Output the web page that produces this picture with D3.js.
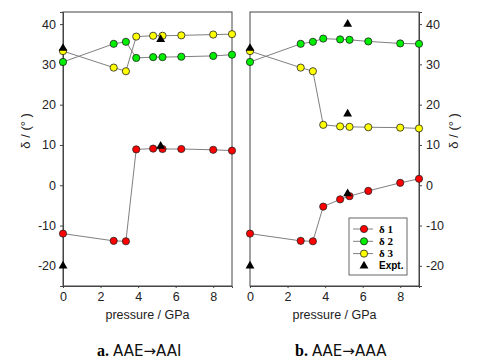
<!DOCTYPE html>
<html>
<head>
<meta charset="utf-8">
<script src="https://cdn.jsdelivr.net/npm/d3@7"></script>
<style>
  body { margin: 0; background: #fff; }
  svg { display: block; font-family: "Liberation Sans", Arial, sans-serif; }
  .tick text { font-size: 12.5px; fill: #222; }
  .frame { fill: none; stroke: #444; stroke-width: 1; }
  .conn { fill: none; stroke: #808080; stroke-width: 1; }
</style>
</head>
<body>
<div id="chart"></div>
<script>
// pressure grid (GPa) shared by both panels
const pressure = [0, 2.7, 3.35, 3.9, 4.8, 5.3, 6.3, 8.0, 9.0];

// panel a: AAE -> AAI
const a_d1 = [-12.0, -13.8, -13.9, 8.9, 9.1, 9.0, 9.0, 8.8, 8.6];
const a_d2 = [30.6, 35.1, 35.6, 31.6, 31.8, 31.8, 31.9, 32.1, 32.4];
const a_d3 = [33.3, 29.2, 28.3, 36.9, 37.1, 37.1, 37.2, 37.4, 37.5];
const a_exptP = [0, 0, 5.2, 5.2];
const a_exptV = [34, -20, 36.2, 9.7];

// panel b: AAE -> AAA
const b_d1 = [-12.0, -13.8, -13.9, -5.3, -3.5, -2.7, -1.4, 0.6, 1.6];
const b_d2 = [30.6, 35.1, 35.6, 36.4, 36.2, 36.1, 35.7, 35.2, 35.1];
const b_d3 = [33.3, 29.2, 28.3, 15.0, 14.6, 14.5, 14.4, 14.3, 14.1];
const b_exptP = [0, 0, 5.2, 5.2, 5.2];
const b_exptV = [34, -20, 40, 17.7, -2.1];

const seriesNames = ["δ 1", "δ 2", "δ 3"];
const seriesColors = ["#ff0000", "#00ee00", "#ffff00"];
const yTicks = [-20, -10, 0, 10, 20, 30, 40];
const xTicks = [0, 2, 4, 6, 8];
const captions = [["a.", "AAE→AAI"], ["b.", "AAE→AAA"]];

const W = 477, H = 362;
const svg = d3.select("#chart").append("svg").attr("width", W).attr("height", H);

const y = d3.scaleLinear([-25, 43], [286, 12]);
const panels = [
  { x0: 63, x1: 232, series: [a_d1, a_d2, a_d3], eP: a_exptP, eV: a_exptV, side: "left" },
  { x0: 250, x1: 419, series: [b_d1, b_d2, b_d3], eP: b_exptP, eV: b_exptV, side: "right" },
];
const tri = d3.symbol().type(d3.symbolTriangle).size(34);

panels.forEach((p, pi) => {
  const x = d3.scaleLinear([0, 9], [p.x0, p.x1]);
  const g = svg.append("g");

  g.append("rect").attr("class", "frame")
    .attr("x", p.x0).attr("y", y.range()[1])
    .attr("width", p.x1 - p.x0).attr("height", y.range()[0] - y.range()[1]);

  // x axis
  const xa = g.append("g").attr("transform", `translate(0,${y.range()[0]})`)
    .call(d3.axisBottom(x).tickValues(xTicks).tickSize(2).tickPadding(4).tickFormat((d) => String(d)));
  xa.select(".domain").attr("stroke", "#444");
  xa.selectAll(".tick line").attr("stroke", "#444");
  g.append("text").attr("x", (p.x0 + p.x1) / 2).attr("y", 319)
    .attr("text-anchor", "middle").attr("font-size", 12.5).attr("fill", "#222")
    .text("pressure / GPa");

  // y axis
  const axis = p.side === "left" ? d3.axisLeft(y) : d3.axisRight(y);
  const ya = g.append("g").attr("transform", `translate(${p.side === "left" ? p.x0 : p.x1},0)`)
    .call(axis.tickValues(yTicks).tickSize(3).tickPadding(4).tickFormat((d) => String(d)));
  ya.select(".domain").attr("stroke", "#444");
  ya.selectAll(".tick line").attr("stroke", "#444");
  const lx = p.side === "left" ? 25 : 453;
  g.append("text").attr("transform", `translate(${lx},${y(13.5)}) rotate(-90)`)
    .attr("text-anchor", "middle").attr("dy", "0.35em")
    .attr("font-size", 13).attr("fill", "#222")
    .text("δ / (° )");

  const line = d3.line().x((d, i) => x(pressure[i])).y((d) => y(d));
  p.series.forEach((s) => {
    g.append("path").datum(s).attr("class", "conn").attr("d", line);
  });
  p.series.forEach((s, si) => {
    g.selectAll(null).data(s).join("circle")
      .attr("cx", (d, i) => x(pressure[i])).attr("cy", (d) => y(d))
      .attr("r", 3.6).attr("fill", seriesColors[si])
      .attr("stroke", "#222").attr("stroke-width", 0.8);
  });
  g.selectAll(null).data(p.eV).join("path")
    .attr("d", tri)
    .attr("transform", (d, i) => `translate(${x(p.eP[i])},${y(d)})`)
    .attr("fill", "#000");

  // caption
  const cap = svg.append("text").attr("x", pi === 0 ? 97 : 295).attr("y", 356);
  cap.append("tspan").attr("font-family", "'Liberation Serif', 'Times New Roman', serif")
    .attr("font-weight", "bold").attr("font-size", 16).text(captions[pi][0] + " ");
  cap.append("tspan").attr("font-family", "'DejaVu Sans', sans-serif").attr("font-size", 15)
    .attr("fill", "#111").text(captions[pi][1]);
});

// legend inside panel b
const lg = svg.append("g").attr("transform", "translate(349,218)");
lg.append("rect").attr("width", 58).attr("height", 57)
  .attr("fill", "#fff").attr("stroke", "#666").attr("stroke-width", 1);
const legendItems = seriesNames.map((n, i) => ({ name: n, color: seriesColors[i] }))
  .concat([{ name: "Expt.", color: null }]);
legendItems.forEach((d, i) => {
  const cy = 11 + i * 12.3;
  const row = lg.append("g").attr("transform", `translate(0,${cy})`);
  if (d.color) {
    row.append("line").attr("x1", 4).attr("x2", 24).attr("stroke", "#808080");
    row.append("circle").attr("cx", 15).attr("r", 3.6).attr("fill", d.color)
      .attr("stroke", "#222").attr("stroke-width", 0.8);
    row.append("text").attr("x", 30).attr("dy", "0.35em")
      .attr("font-family", "'Liberation Serif', serif").attr("font-weight", "bold")
      .attr("font-size", 11).text(d.name);
  } else {
    row.append("path").attr("d", tri).attr("transform", "translate(15,0)").attr("fill", "#000");
    row.append("text").attr("x", 30).attr("dy", "0.35em")
      .attr("font-weight", "bold").attr("font-size", 10).text(d.name);
  }
});
</script>
</body>
</html>
